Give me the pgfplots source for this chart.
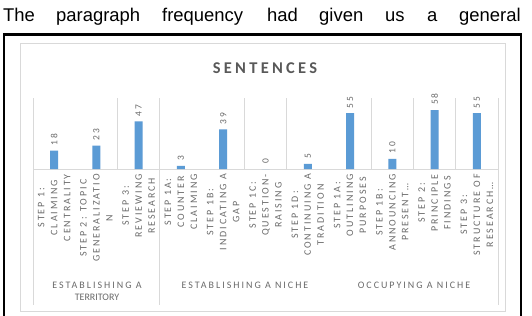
\documentclass[border=0pt]{standalone}
\usepackage{pgfplots}
\pgfplotsset{compat=1.18}
\usepackage{fontspec}
\setmainfont{Carlito}
\newfontfamily\lblfont[LetterSpace=20]{Carlito}
\newfontfamily\titlefont[LetterSpace=20]{Carlito}
\newfontfamily\bodyfont{Liberation Sans}
\definecolor{barblue}{HTML}{5B9BD5}
\definecolor{gridc}{HTML}{D9D9D9}
\definecolor{txt}{HTML}{595959}
\definecolor{lbl}{HTML}{6A6A6A}
\begin{document}
\begin{tikzpicture}
\useasboundingbox (0,0) rectangle (532bp,316bp);
\fill[white] (0,0) rectangle (532bp,316bp);
% running text above the figure
\foreach \x/\w in {3/The,56/paragraph,162/frequency,267/had,319/given,385/us,427/a,459/general}
  \node[anchor=base west,inner sep=0pt] at (\x bp,294.3bp) {\bodyfont\fontsize{18.5}{20}\selectfont \w};
% black frame
\draw[line width=2.5bp] (4bp,-5bp) -- (4bp,281.5bp) -- (521bp,281.5bp) -- (521bp,-5bp);
% chart area border
\draw[gridc, line width=0.8bp] (20bp,5bp) rectangle (505bp,273bp);
% title
\node[text=txt] at (265bp,248bp) {\titlefont\bfseries\fontsize{16.5}{18}\selectfont SENTENCES};
% group labels
\node[text=lbl,align=center] at (97bp,24.5bp) {\lblfont\fontsize{10}{14}\selectfont ESTABLISHING A\\TERRITORY};
\node[text=lbl] at (245bp,31bp) {\lblfont\fontsize{10}{14}\selectfont ESTABLISHING A NICHE};
\node[text=lbl] at (414bp,31bp) {\lblfont\fontsize{10}{14}\selectfont OCCUPYING A NICHE};
\begin{axis}[
  at={(33bp,147bp)}, anchor=south west,
  scale only axis, width=465bp, height=71bp,
  ymin=0, ymax=70, xmin=-0.5, xmax=10.5,
  axis x line=bottom, axis y line=none, ytick=\empty,
  x axis line style={draw=gridc,-},
  xtick={0,...,10}, major tick length=0,
  xticklabels={{STEP 1:\\CLAIMING\\CENTRALITY},{STEP 2: TOPIC\\GENERALIZATIO\\N},{STEP 3:\\REVIEWING\\RESEARCH},{STEP 1A:\\COUNTER\\CLAIMING},{STEP 1B:\\INDICATING A\\GAP},{STEP 1C:\\QUESTION-\\RAISING},{STEP 1D:\\CONTINUING A\\TRADITION},{STEP 1A:\\OUTLINING\\PURPOSES},{STEP 1B:\\ANNOUNCING\\PRESENT…},{STEP 2:\\PRINCIPLE\\FINDINGS},{STEP 3:\\STRUCTURE OF\\RESEARCH…}},
  x tick label style={rotate=90, anchor=east, align=center, text=lbl, font=\lblfont\fontsize{10}{13}\selectfont, inner sep=5bp},
  /pgf/number format/assume math mode=true,
  ybar, bar width=8bp,
  nodes near coords,
  every node near coord/.append style={rotate=90, anchor=west, text=lbl, font=\lblfont\fontsize{9.5}{11}\selectfont, inner sep=5bp},
  clip=false,
]
\foreach \g in {-0.5,1.5,2.5,4.5,5.5,7.5,8.5,9.5,10.5}{
  \edef\temp{\noexpand\draw[gridc, line width=0.8bp] (axis cs:\g,0) -- (axis cs:\g,70);}
  \temp
}
\foreach \g in {-0.5,2.5,10.5}{
  \edef\temp{\noexpand\draw[gridc, line width=0.8bp] (axis cs:\g,0) -- ++(0pt,-136bp);}
  \temp
}
\addplot[fill=barblue, draw=none] coordinates {
  (0,18) (1,23) (2,47) (3,3) (4,39) (5,0) (6,5) (7,55) (8,10) (9,58) (10,55)
};
\end{axis}
\end{tikzpicture}
\end{document}
